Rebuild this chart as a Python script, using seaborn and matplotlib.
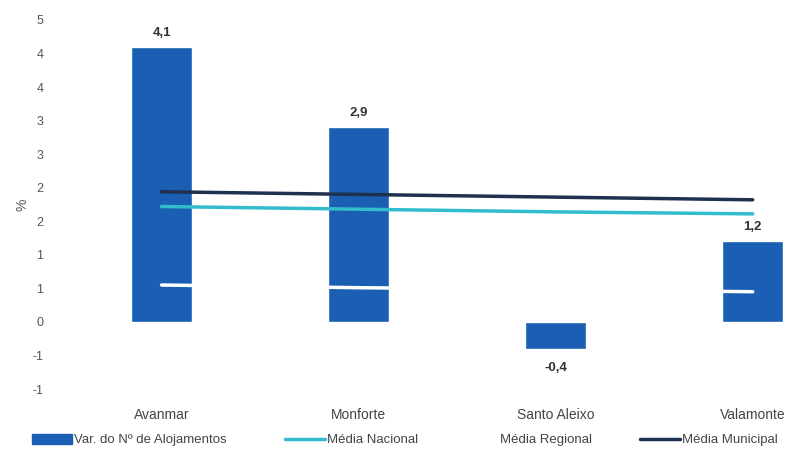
import numpy as np
import matplotlib
matplotlib.use("Agg")
import matplotlib.pyplot as plt
import seaborn as sns
from matplotlib.patches import Patch
from matplotlib.lines import Line2D

categories = ["Avanmar", "Monforte", "Santo Aleixo", "Valamonte"]
var_alojamentos = [4.1, 2.9, -0.4, 1.2]
value_labels = ["4,1", "2,9", "-0,4", "1,2"]
media_nacional = [1.72, 1.68, 1.64, 1.61]
media_regional = [0.55, 0.51, 0.48, 0.45]
media_municipal = [1.94, 1.90, 1.86, 1.82]
ytick_values = [-1, -0.5, 0, 0.5, 1, 1.5, 2, 2.5, 3, 3.5, 4, 4.5]
ytick_labels = ["-1", "-1", "0", "1", "1", "2", "2", "3", "3", "4", "4", "5"]
legend_labels = ["Var. do Nº de Alojamentos", "Média Nacional", "Média Regional", "Média Municipal"]

BAR = "#1a5fb4"
TEAL = "#33bccc"
NAVY = "#1f3050"

sns.set_theme(style="white")
plt.rcParams["font.family"] = ["Liberation Sans", "DejaVu Sans"]

fig = plt.figure(figsize=(8, 4.59), dpi=100)
ax = fig.add_axes([63 / 800, 1 - 389 / 459, (800 - 63) / 800, (389 - 20) / 459])

sns.barplot(x=categories, y=var_alojamentos, color=BAR, width=0.31, ax=ax,
            saturation=1, zorder=2)
xpos = np.arange(len(categories))
sns.lineplot(x=xpos, y=media_municipal, color=NAVY, linewidth=2.5, ax=ax, zorder=3)
sns.lineplot(x=xpos, y=media_nacional, color=TEAL, linewidth=2.5, ax=ax, zorder=3)
sns.lineplot(x=xpos, y=media_regional, color="white", linewidth=2.5, ax=ax, zorder=3)

for i, (v, lab) in enumerate(zip(var_alojamentos, value_labels)):
    if v >= 0:
        ax.text(i, v + 0.12, lab, ha="center", va="bottom", fontsize=9.5,
                fontweight="bold", color="#333333")
    else:
        ax.text(i, v - 0.2, lab, ha="center", va="top", fontsize=9.5,
                fontweight="bold", color="#333333")

ax.set_xlim(-0.5, 3.24)
ax.set_ylim(-1, 4.5)
ax.set_yticks(ytick_values)
ax.set_yticklabels(ytick_labels, fontsize=9, color="#555555")
ax.tick_params(axis="y", length=0, pad=14)
ax.tick_params(axis="x", length=0, pad=14, labelsize=10, labelcolor="#444444")
ax.set_ylabel("%", fontsize=10, color="#555555", labelpad=2)
for s in ax.spines.values():
    s.set_visible(False)
ax.grid(False)

handles = [Patch(facecolor=BAR, edgecolor=BAR),
           Line2D([0], [0], color=TEAL, lw=2.5),
           Line2D([0], [0], color="white", lw=2.5),
           Line2D([0], [0], color=NAVY, lw=2.5)]
legend_x = [32, 285, 458, 640]
for h, lab, x0 in zip(handles, legend_labels, legend_x):
    fig.legend([h], [lab], loc="center left", bbox_to_anchor=(x0 / 800, 1 - 440 / 459),
               frameon=False, fontsize=9.5, handlelength=3.0, handleheight=0.8,
               handletextpad=0.15, borderpad=0, borderaxespad=0, labelcolor="#444444")

fig.savefig("out.png", dpi=100)
